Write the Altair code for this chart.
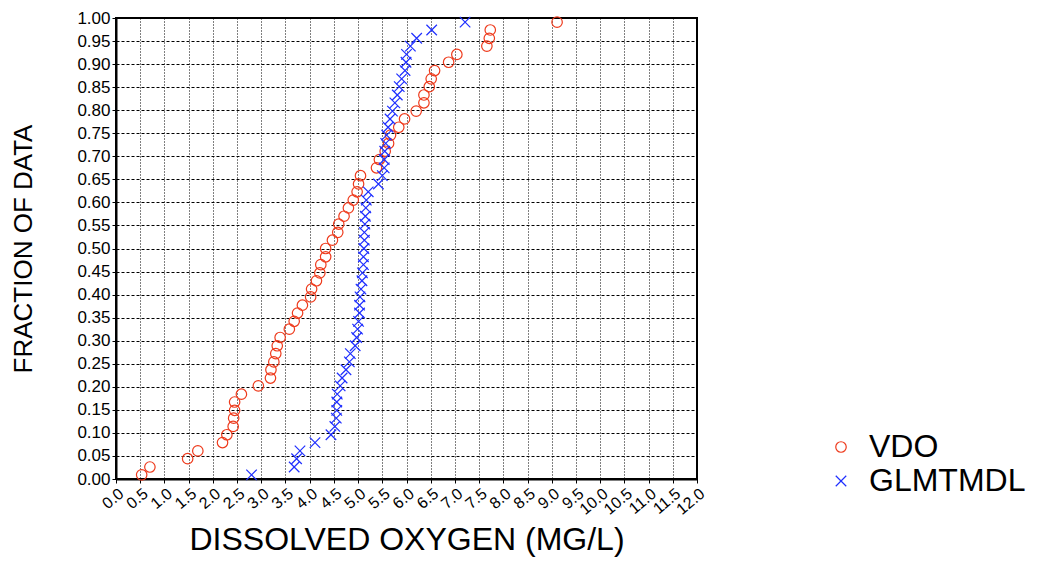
import altair as alt
import pandas as pd

# Fraction of data (plotting positions, same for both series)
fraction = [0.009, 0.026, 0.044, 0.061, 0.079, 0.096, 0.114, 0.132, 0.149, 0.167,
            0.184, 0.202, 0.219, 0.237, 0.254, 0.272, 0.289, 0.307, 0.325, 0.342,
            0.360, 0.377, 0.395, 0.412, 0.430, 0.447, 0.465, 0.482, 0.500, 0.518,
            0.535, 0.553, 0.570, 0.588, 0.605, 0.623, 0.640, 0.658, 0.675, 0.693,
            0.711, 0.728, 0.746, 0.763, 0.781, 0.798, 0.816, 0.833, 0.851, 0.868,
            0.886, 0.904, 0.921, 0.939, 0.956, 0.974, 0.991]

vdo = [0.53, 0.70, 1.48, 1.69, 2.20, 2.29, 2.42, 2.43, 2.45, 2.45,
       2.59, 2.94, 3.19, 3.20, 3.26, 3.30, 3.33, 3.39, 3.58, 3.68,
       3.75, 3.85, 4.02, 4.04, 4.14, 4.21, 4.23, 4.33, 4.33, 4.47,
       4.58, 4.60, 4.71, 4.80, 4.90, 4.98, 5.01, 5.05, 5.38, 5.44,
       5.56, 5.63, 5.67, 5.84, 5.96, 6.20, 6.36, 6.36, 6.47, 6.51,
       6.58, 6.87, 7.04, 7.66, 7.71, 7.73, 9.11]

glmtmdl = [2.80, 3.68, 3.73, 3.80, 4.11, 4.44, 4.52, 4.55, 4.56, 4.56,
           4.57, 4.63, 4.67, 4.75, 4.82, 4.84, 4.94, 4.97, 4.99, 5.01,
           5.03, 5.03, 5.04, 5.06, 5.08, 5.09, 5.11, 5.11, 5.12, 5.13,
           5.13, 5.14, 5.15, 5.16, 5.17, 5.21, 5.42, 5.50, 5.54, 5.54,
           5.55, 5.57, 5.59, 5.62, 5.66, 5.71, 5.76, 5.81, 5.85, 5.90,
           5.97, 5.99, 6.00, 6.08, 6.21, 6.52, 7.21]

series_names = ["VDO", "GLMTMDL"]
series_colors = ["#ee3a1c", "#1f2fff"]
series_shapes = ["circle", "M-1,-1L1,1M-1,1L1,-1"]

x_ticks = [i * 0.5 for i in range(25)]
y_ticks = [i * 0.05 for i in range(21)]

df = pd.DataFrame({
    "value": vdo + glmtmdl,
    "fraction": fraction + fraction,
    "series": [series_names[0]] * len(vdo) + [series_names[1]] * len(glmtmdl),
})

FONT = "Liberation Sans"

legend = alt.Legend(orient="none", legendX=709, legendY=413, title=None)

chart = alt.Chart(df).mark_point(filled=False, strokeWidth=1.2, size=110, opacity=1).encode(
    x=alt.X("value:Q",
            scale=alt.Scale(domain=[0, 12], nice=False, zero=False),
            axis=alt.Axis(values=x_ticks, format=".1f", labelAngle=320,
                          labelOverlap=False, labelFontSize=16,
                          title="DISSOLVED OXYGEN (MG/L)", titlePadding=7)),
    y=alt.Y("fraction:Q",
            scale=alt.Scale(domain=[0, 1], nice=False),
            axis=alt.Axis(values=y_ticks, format=".2f", labelOverlap=False,
                          title="FRACTION OF DATA", titlePadding=40)),
    color=alt.Color("series:N",
                    scale=alt.Scale(domain=series_names, range=series_colors),
                    legend=legend),
    shape=alt.Shape("series:N",
                    scale=alt.Scale(domain=series_names, range=series_shapes),
                    legend=legend),
).properties(
    width=581,
    height=461,
    padding={"left": 108, "top": 10, "right": 334, "bottom": 82},
    autosize=alt.AutoSizeParams(type="none"),
).configure_view(
    stroke="#000000", strokeWidth=2
).configure_axis(
    labelFont=FONT, labelFontSize=17, labelColor="#000000",
    titleFont=FONT, titleFontWeight="normal", titleColor="#000000",
    gridColor="#000000", gridOpacity=1, gridWidth=1,
    tickColor="#000000", tickSize=4, domainColor="#000000", domainWidth=2,
    labelPadding=2,
).configure_axisX(
    gridDash=[1, 2], titleFontSize=32,
).configure_axisY(
    gridDash=[3, 2], titleFontSize=26,
).configure_legend(
    labelFont=FONT, labelFontSize=32, labelColor="#000000",
    symbolSize=110, symbolStrokeWidth=1.2, labelOffset=12, rowPadding=2, padding=0,
)

chart.save("out.html", embed_options={"renderer": "svg", "actions": False})
